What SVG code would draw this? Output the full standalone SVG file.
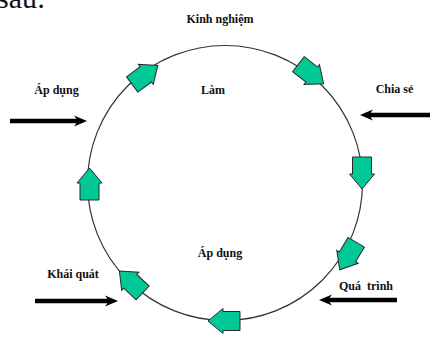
<svg xmlns="http://www.w3.org/2000/svg" xmlns:xlink="http://www.w3.org/1999/xlink" width="430" height="338" viewBox="0 0 430 338">
<style>
.lbl{font-family:"Liberation Serif","Times New Roman",serif;font-weight:bold;font-size:12px;fill:#111;text-anchor:middle}
.blk{fill:#00C896;stroke:#2a2a2a;stroke-width:1}
.feed{stroke:#000;stroke-width:4.5;fill:none}
.ring{fill:none;stroke:#333;stroke-width:1.2}
</style>
<defs>
<path id="ba" d="M-16,-9.5 H1 V-12.5 L16,0 L1,12.5 V9.5 H-16 Z"/>
<path id="hd" d="M0,0 L-13,-5.5 L-9,0 L-13,5.5 Z" fill="#000"/>
</defs>
<rect width="430" height="338" fill="#fff"/>
<text x="-3" y="8" style="font-family:'Liberation Serif','Times New Roman',serif;font-size:30px;fill:#111">sau:</text>
<g id="cycle">
<circle class="ring" cx="225" cy="183" r="137.5"/>
</g>
<g id="connectors">
<g id="arr-topleft"><use xlink:href="#ba" class="blk" transform="translate(145,75) rotate(-36.5)"/></g>
<g id="arr-topright"><use xlink:href="#ba" class="blk" transform="translate(311,74) rotate(38)"/></g>
<g id="arr-right"><use xlink:href="#ba" class="blk" transform="translate(362,173) rotate(90)"/></g>
<g id="arr-bottomright"><use xlink:href="#ba" class="blk" transform="translate(348,256) rotate(121)"/></g>
<g id="arr-bottom"><use xlink:href="#ba" class="blk" transform="translate(224,321) rotate(180)"/></g>
<g id="arr-bottomleft"><use xlink:href="#ba" class="blk" transform="translate(131,282) rotate(-136.5)"/></g>
<g id="arr-left"><use xlink:href="#ba" class="blk" transform="translate(89.5,184) rotate(-90)"/></g>
<g id="in-apdung"><line class="feed" x1="10" y1="121" x2="80" y2="121"/><use xlink:href="#hd" transform="translate(87,121)"/></g>
<g id="in-chiase"><line class="feed" x1="430" y1="115" x2="367" y2="115"/><use xlink:href="#hd" transform="translate(360,115) rotate(180)"/></g>
<g id="in-khaiquat"><line class="feed" x1="35" y1="301" x2="111" y2="301"/><use xlink:href="#hd" transform="translate(118,301)"/></g>
<g id="in-quatrinh"><line class="feed" x1="397" y1="300" x2="326" y2="300"/><use xlink:href="#hd" transform="translate(319,300) rotate(180)"/></g>
</g>
<g id="kinh-nghiem"><text class="lbl" x="220" y="23">Kinh nghiệm</text></g>
<g id="lam"><text class="lbl" x="213" y="94">Làm</text></g>
<g id="ap-dung-1"><text class="lbl" x="56.5" y="94">Áp dụng</text></g>
<g id="chia-se"><text class="lbl" x="394.5" y="93">Chia sẻ</text></g>
<g id="ap-dung-2"><text class="lbl" x="220" y="257">Áp dụng</text></g>
<g id="khai-quat"><text class="lbl" x="73" y="278">Khái quát</text></g>
<g id="qua-trinh"><text class="lbl" x="366" y="290" style="word-spacing:3px">Quá trình</text></g>
</svg>
